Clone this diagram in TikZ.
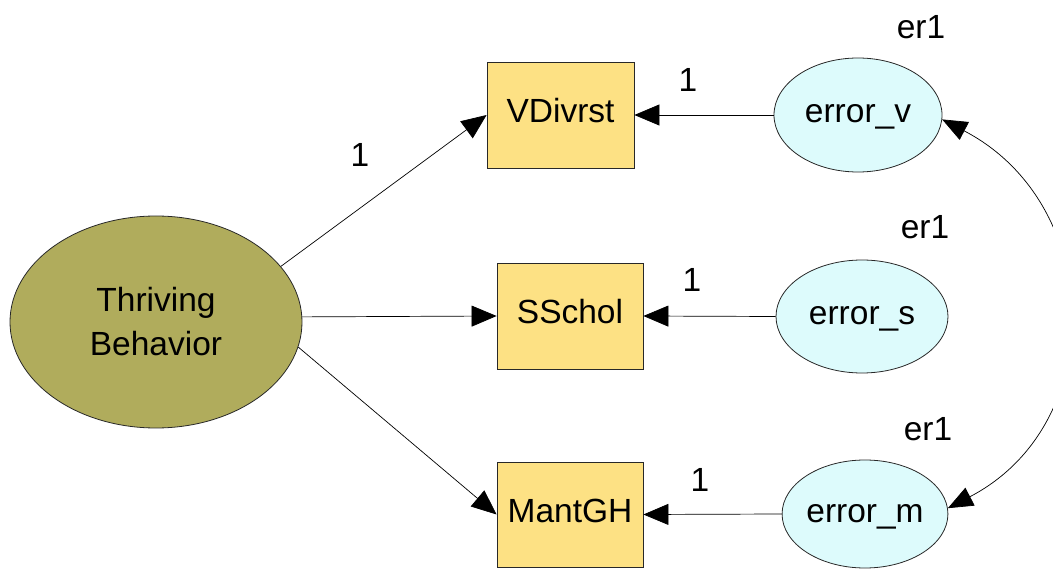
\documentclass[tikz,border=0pt]{standalone}
\usepackage{fontspec}
\setmainfont{Liberation Sans}
\usetikzlibrary{shapes.geometric,arrows.meta}
\definecolor{olivefill}{RGB}{176,172,92}
\definecolor{boxfill}{RGB}{253,225,132}
\definecolor{errfill}{RGB}{221,251,252}
\definecolor{edge}{RGB}{40,40,40}
\tikzset{
  txt/.style={font=\fontsize{33.5}{44}\selectfont},
  onel/.style={text height=24pt, text depth=8pt},
  latent/.style={ellipse, draw=edge, line width=0.8pt, fill=olivefill, inner sep=0pt, txt, align=center},
  obsbox/.style={rectangle, draw=edge, line width=0.8pt, fill=boxfill, inner sep=0pt, txt, onel},
  errnode/.style={ellipse, draw=edge, line width=0.8pt, fill=errfill, inner sep=0pt, txt, onel},
  lab/.style={txt, inner sep=0pt},
  path/.style={line width=0.7pt, draw=black, -{Triangle[length=25pt,width=21pt]}},
  cov/.style={line width=0.7pt, draw=black, {Triangle[length=25pt,width=20pt]}-{Triangle[length=25pt,width=20pt]}}
}
\begin{document}
\begin{tikzpicture}[x=1pt,y=-1pt]
\useasboundingbox (0,0) rectangle (1053,569);
\node[latent, minimum width=292pt, minimum height=212pt] (TB) at (156,322) {Thriving\\Behavior};
\node[obsbox, minimum width=147pt, minimum height=106pt] (VD) at (560.5,115) {VDivrst};
\node[obsbox, minimum width=146pt, minimum height=106pt] (SS) at (570,316) {SSchol};
\node[obsbox, minimum width=146pt, minimum height=105pt] (MG) at (570,514.5) {MantGH};
\node[errnode, minimum width=168pt, minimum height=114pt] (ev) at (858,115) {error\_v};
\node[errnode, minimum width=172pt, minimum height=113pt] (es) at (862,316.5) {error\_s};
\node[errnode, minimum width=154pt, minimum height=108pt] (em) at (865,514) {error\_m};
\node[lab] (l1) at (360,155) {1};
\node[lab] (l2) at (688,80) {1};
\node[lab] (l3) at (692,280) {1};
\node[lab] (l4) at (700,480) {1};
\node[lab] (e1) at (921,27) {er1};
\node[lab] (e2) at (925,227) {er1};
\node[lab] (e3) at (928,429) {er1};
\draw[path] (TB.24) -- (VD.west);
\draw[path] (TB.2) -- (SS.west);
\draw[path] (TB.-10) -- (MG.west);
\draw[path] (ev.west) -- (VD.east);
\draw[path] (es.west) -- (SS.east);
\draw[path] (em.west) -- (MG.east);
\draw[cov] (ev.-3) .. controls +(-27.5:183pt) and +(27.5:183pt) .. (em.4);
\end{tikzpicture}
\end{document}
